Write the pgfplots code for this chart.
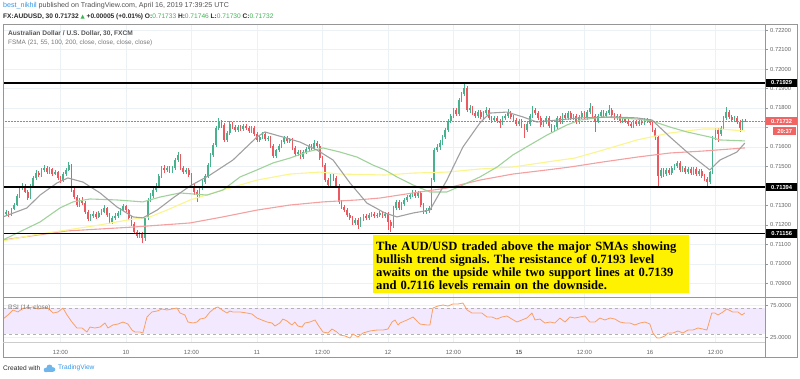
\documentclass[border=0pt]{standalone}
\usepackage{pgfplots}
\pgfplotsset{compat=1.18}
\usepackage{pgfplotstable}
\usepackage{fontspec}
\setmainfont{Liberation Sans}
\newfontfamily\serifb{Liberation Serif}
\newfontfamily\dejavu{DejaVu Sans}
\definecolor{upc}{RGB}{72,178,140}
\definecolor{dnc}{RGB}{236,88,96}
\definecolor{gridc}{RGB}{236,241,246}
\definecolor{framec}{RGB}{150,150,150}
\definecolor{labc}{RGB}{100,100,100}
\definecolor{smagrey}{RGB}{160,160,160}
\definecolor{smagreen}{RGB}{160,210,155}
\definecolor{smayellow}{RGB}{250,245,140}
\definecolor{smared}{RGB}{245,160,160}
\definecolor{pricered}{RGB}{240,100,100}
\definecolor{rsic}{RGB}{250,160,100}
\definecolor{rsiband}{RGB}{243,233,255}
\definecolor{nickc}{RGB}{50,150,230}
\definecolor{hdrc}{RGB}{80,80,80}
\definecolor{hdr2}{RGB}{40,40,40}
\definecolor{greenv}{RGB}{60,180,80}
\definecolor{titc}{RGB}{85,85,85}
\definecolor{subc}{RGB}{120,120,120}
\definecolor{tvblue}{RGB}{50,150,230}

\pgfplotstableread{
t o h l c
3 0.71246 0.71266 0.71236 0.71256
4 0.71256 0.71276 0.71246 0.71266
5 0.71266 0.71271 0.71241 0.71251
6 0.71251 0.71287 0.71246 0.71282
7 0.71282 0.71312 0.71276 0.71302
8 0.71302 0.71359 0.71297 0.71348
9 0.71348 0.71400 0.71338 0.71389
10 0.71389 0.71415 0.71379 0.71400
11 0.71400 0.71410 0.71364 0.71369
12 0.71369 0.71379 0.71328 0.71338
13 0.71338 0.71410 0.71333 0.71400
14 0.71400 0.71451 0.71389 0.71441
15 0.71441 0.71482 0.71430 0.71466
16 0.71466 0.71477 0.71446 0.71456
17 0.71456 0.71492 0.71446 0.71482
18 0.71482 0.71507 0.71471 0.71492
19 0.71492 0.71502 0.71461 0.71471
20 0.71471 0.71497 0.71461 0.71487
21 0.71487 0.71492 0.71451 0.71461
22 0.71461 0.71482 0.71456 0.71471
23 0.71471 0.71477 0.71430 0.71441
24 0.71441 0.71451 0.71415 0.71425
25 0.71425 0.71471 0.71420 0.71461
26 0.71461 0.71492 0.71451 0.71482
27 0.71482 0.71523 0.71477 0.71507
28 0.71507 0.71513 0.71369 0.71379
29 0.71379 0.71389 0.71333 0.71343
30 0.71343 0.71353 0.71292 0.71302
31 0.71302 0.71338 0.71292 0.71328
32 0.71328 0.71343 0.71302 0.71312
33 0.71312 0.71323 0.71256 0.71266
34 0.71266 0.71276 0.71220 0.71230
35 0.71230 0.71256 0.71220 0.71246
36 0.71246 0.71271 0.71236 0.71256
37 0.71256 0.71266 0.71230 0.71241
38 0.71241 0.71271 0.71236 0.71261
39 0.71261 0.71282 0.71251 0.71266
40 0.71266 0.71302 0.71261 0.71287
41 0.71287 0.71292 0.71241 0.71251
42 0.71251 0.71261 0.71205 0.71215
43 0.71215 0.71246 0.71205 0.71236
44 0.71236 0.71261 0.71225 0.71246
45 0.71246 0.71271 0.71236 0.71261
46 0.71261 0.71287 0.71251 0.71276
47 0.71276 0.71307 0.71271 0.71297
48 0.71297 0.71302 0.71266 0.71276
49 0.71276 0.71282 0.71225 0.71236
50 0.71236 0.71246 0.71194 0.71205
51 0.71205 0.71215 0.71153 0.71164
52 0.71164 0.71174 0.71133 0.71143
53 0.71143 0.71164 0.71133 0.71153
54 0.71153 0.71164 0.71107 0.71133
55 0.71133 0.71246 0.71118 0.71236
56 0.71236 0.71338 0.71225 0.71328
57 0.71328 0.71364 0.71318 0.71348
58 0.71348 0.71389 0.71338 0.71379
59 0.71379 0.71415 0.71369 0.71400
60 0.71400 0.71461 0.71389 0.71451
61 0.71451 0.71502 0.71441 0.71492
62 0.71492 0.71507 0.71466 0.71482
63 0.71482 0.71502 0.71471 0.71492
64 0.71492 0.71502 0.71466 0.71477
65 0.71477 0.71502 0.71466 0.71492
66 0.71492 0.71543 0.71482 0.71533
67 0.71533 0.71574 0.71523 0.71559
68 0.71559 0.71564 0.71482 0.71492
69 0.71492 0.71502 0.71461 0.71471
70 0.71471 0.71492 0.71461 0.71482
71 0.71482 0.71492 0.71446 0.71456
72 0.71456 0.71466 0.71389 0.71400
73 0.71400 0.71410 0.71353 0.71369
74 0.71369 0.71379 0.71318 0.71353
75 0.71353 0.71400 0.71338 0.71389
76 0.71389 0.71430 0.71379 0.71420
77 0.71420 0.71461 0.71410 0.71451
78 0.71451 0.71518 0.71441 0.71507
79 0.71507 0.71569 0.71497 0.71559
80 0.71559 0.71620 0.71548 0.71610
81 0.71610 0.71708 0.71600 0.71697
82 0.71697 0.71749 0.71687 0.71728
83 0.71728 0.71738 0.71697 0.71713
84 0.71713 0.71723 0.71625 0.71636
85 0.71636 0.71682 0.71625 0.71672
86 0.71672 0.71733 0.71661 0.71718
87 0.71718 0.71728 0.71692 0.71702
88 0.71702 0.71713 0.71677 0.71687
89 0.71687 0.71713 0.71677 0.71702
90 0.71702 0.71713 0.71682 0.71692
91 0.71692 0.71718 0.71682 0.71708
92 0.71708 0.71718 0.71687 0.71697
93 0.71697 0.71708 0.71672 0.71682
94 0.71682 0.71708 0.71672 0.71697
95 0.71697 0.71708 0.71656 0.71666
96 0.71666 0.71677 0.71625 0.71636
97 0.71636 0.71661 0.71625 0.71651
98 0.71651 0.71677 0.71641 0.71666
99 0.71666 0.71677 0.71631 0.71641
100 0.71641 0.71656 0.71631 0.71646
101 0.71646 0.71656 0.71595 0.71605
102 0.71605 0.71615 0.71543 0.71554
103 0.71554 0.71589 0.71543 0.71584
104 0.71584 0.71615 0.71574 0.71605
105 0.71605 0.71636 0.71595 0.71625
106 0.71625 0.71656 0.71615 0.71646
107 0.71646 0.71656 0.71620 0.71631
108 0.71631 0.71646 0.71620 0.71636
109 0.71636 0.71646 0.71584 0.71595
110 0.71595 0.71605 0.71554 0.71564
111 0.71564 0.71584 0.71554 0.71574
112 0.71574 0.71584 0.71538 0.71548
113 0.71548 0.71584 0.71538 0.71574
114 0.71574 0.71600 0.71564 0.71589
115 0.71589 0.71615 0.71579 0.71605
116 0.71605 0.71615 0.71584 0.71595
117 0.71595 0.71636 0.71584 0.71620
118 0.71620 0.71631 0.71595 0.71605
119 0.71605 0.71615 0.71533 0.71543
120 0.71543 0.71554 0.71497 0.71507
121 0.71507 0.71518 0.71420 0.71430
122 0.71430 0.71441 0.71389 0.71405
123 0.71405 0.71461 0.71394 0.71451
124 0.71451 0.71461 0.71425 0.71441
125 0.71441 0.71451 0.71389 0.71400
126 0.71400 0.71410 0.71307 0.71318
127 0.71318 0.71328 0.71282 0.71292
128 0.71292 0.71302 0.71266 0.71276
129 0.71276 0.71287 0.71241 0.71251
130 0.71251 0.71261 0.71225 0.71236
131 0.71236 0.71246 0.71200 0.71210
132 0.71210 0.71236 0.71200 0.71225
133 0.71225 0.71236 0.71179 0.71200
134 0.71200 0.71241 0.71189 0.71230
135 0.71230 0.71256 0.71220 0.71246
136 0.71246 0.71256 0.71225 0.71236
137 0.71236 0.71261 0.71225 0.71251
138 0.71251 0.71266 0.71241 0.71256
139 0.71256 0.71266 0.71236 0.71246
140 0.71246 0.71261 0.71236 0.71251
141 0.71251 0.71271 0.71241 0.71261
142 0.71261 0.71271 0.71236 0.71246
143 0.71246 0.71266 0.71236 0.71256
144 0.71256 0.71266 0.71174 0.71215
145 0.71215 0.71225 0.71164 0.71194
146 0.71194 0.71297 0.71184 0.71287
147 0.71287 0.71328 0.71276 0.71318
148 0.71318 0.71328 0.71276 0.71287
149 0.71287 0.71318 0.71276 0.71307
150 0.71307 0.71338 0.71297 0.71328
151 0.71328 0.71353 0.71318 0.71343
152 0.71343 0.71364 0.71333 0.71353
153 0.71353 0.71379 0.71343 0.71369
154 0.71369 0.71379 0.71338 0.71348
155 0.71348 0.71374 0.71338 0.71364
156 0.71364 0.71374 0.71292 0.71302
157 0.71302 0.71312 0.71256 0.71266
158 0.71266 0.71287 0.71256 0.71276
159 0.71276 0.71297 0.71261 0.71287
160 0.71287 0.71441 0.71276 0.71430
161 0.71430 0.71595 0.71420 0.71584
162 0.71584 0.71615 0.71574 0.71600
163 0.71600 0.71636 0.71584 0.71620
164 0.71620 0.71661 0.71610 0.71651
165 0.71651 0.71697 0.71641 0.71687
166 0.71687 0.71743 0.71677 0.71733
167 0.71733 0.71769 0.71723 0.71759
168 0.71759 0.71800 0.71749 0.71790
169 0.71790 0.71800 0.71759 0.71769
170 0.71769 0.71851 0.71759 0.71841
171 0.71841 0.71882 0.71831 0.71872
172 0.71872 0.71928 0.71861 0.71902
173 0.71902 0.71913 0.71779 0.71790
174 0.71790 0.71815 0.71774 0.71800
175 0.71800 0.71810 0.71764 0.71774
176 0.71774 0.71784 0.71749 0.71759
177 0.71759 0.71790 0.71749 0.71779
178 0.71779 0.71790 0.71743 0.71754
179 0.71754 0.71784 0.71743 0.71774
180 0.71774 0.71805 0.71764 0.71790
181 0.71790 0.71800 0.71738 0.71749
182 0.71749 0.71759 0.71723 0.71738
183 0.71738 0.71759 0.71728 0.71749
184 0.71749 0.71759 0.71723 0.71733
185 0.71733 0.71743 0.71697 0.71723
186 0.71723 0.71759 0.71713 0.71749
187 0.71749 0.71769 0.71738 0.71759
188 0.71759 0.71795 0.71749 0.71774
189 0.71774 0.71784 0.71743 0.71754
190 0.71754 0.71764 0.71728 0.71738
191 0.71738 0.71749 0.71708 0.71718
192 0.71718 0.71743 0.71708 0.71733
193 0.71733 0.71743 0.71697 0.71708
194 0.71708 0.71718 0.71646 0.71687
195 0.71687 0.71728 0.71677 0.71718
196 0.71718 0.71769 0.71708 0.71759
197 0.71759 0.71810 0.71749 0.71790
198 0.71790 0.71800 0.71764 0.71774
199 0.71774 0.71784 0.71738 0.71749
200 0.71749 0.71759 0.71702 0.71713
201 0.71713 0.71738 0.71702 0.71728
202 0.71728 0.71759 0.71718 0.71749
203 0.71749 0.71759 0.71697 0.71708
204 0.71708 0.71718 0.71677 0.71687
205 0.71687 0.71713 0.71677 0.71702
206 0.71702 0.71759 0.71692 0.71749
207 0.71749 0.71759 0.71718 0.71728
208 0.71728 0.71774 0.71718 0.71764
209 0.71764 0.71774 0.71738 0.71749
210 0.71749 0.71784 0.71738 0.71774
211 0.71774 0.71784 0.71738 0.71749
212 0.71749 0.71769 0.71738 0.71759
213 0.71759 0.71769 0.71718 0.71728
214 0.71728 0.71764 0.71718 0.71754
215 0.71754 0.71784 0.71743 0.71774
216 0.71774 0.71784 0.71738 0.71749
217 0.71749 0.71790 0.71738 0.71779
218 0.71779 0.71826 0.71769 0.71800
219 0.71800 0.71810 0.71749 0.71759
220 0.71759 0.71769 0.71677 0.71733
221 0.71733 0.71769 0.71723 0.71759
222 0.71759 0.71790 0.71749 0.71779
223 0.71779 0.71790 0.71749 0.71759
224 0.71759 0.71784 0.71749 0.71774
225 0.71774 0.71815 0.71764 0.71790
226 0.71790 0.71800 0.71754 0.71764
227 0.71764 0.71774 0.71738 0.71749
228 0.71749 0.71769 0.71738 0.71759
229 0.71759 0.71769 0.71723 0.71733
230 0.71733 0.71754 0.71723 0.71743
231 0.71743 0.71754 0.71723 0.71733
232 0.71733 0.71743 0.71708 0.71718
233 0.71718 0.71728 0.71697 0.71708
234 0.71708 0.71738 0.71697 0.71728
235 0.71728 0.71738 0.71708 0.71718
236 0.71718 0.71743 0.71708 0.71733
237 0.71733 0.71743 0.71713 0.71723
238 0.71723 0.71749 0.71713 0.71738
239 0.71738 0.71749 0.71723 0.71733
240 0.71733 0.71743 0.71713 0.71723
241 0.71723 0.71733 0.71677 0.71687
242 0.71687 0.71697 0.71636 0.71651
243 0.71651 0.71661 0.71394 0.71451
244 0.71451 0.71492 0.71441 0.71482
245 0.71482 0.71492 0.71446 0.71461
246 0.71461 0.71492 0.71451 0.71482
247 0.71482 0.71492 0.71456 0.71466
248 0.71466 0.71502 0.71456 0.71492
249 0.71492 0.71513 0.71482 0.71502
250 0.71502 0.71528 0.71492 0.71518
251 0.71518 0.71528 0.71471 0.71482
252 0.71482 0.71502 0.71471 0.71492
253 0.71492 0.71502 0.71461 0.71471
254 0.71471 0.71497 0.71461 0.71487
255 0.71487 0.71497 0.71456 0.71466
256 0.71466 0.71497 0.71456 0.71487
257 0.71487 0.71497 0.71451 0.71461
258 0.71461 0.71487 0.71451 0.71477
259 0.71477 0.71487 0.71441 0.71451
260 0.71451 0.71461 0.71425 0.71436
261 0.71436 0.71446 0.71400 0.71420
262 0.71420 0.71477 0.71410 0.71471
263 0.71471 0.71656 0.71461 0.71646
264 0.71646 0.71697 0.71636 0.71687
265 0.71687 0.71697 0.71625 0.71666
266 0.71666 0.71708 0.71656 0.71697
267 0.71697 0.71759 0.71687 0.71749
268 0.71749 0.71805 0.71738 0.71779
269 0.71779 0.71790 0.71743 0.71754
270 0.71754 0.71764 0.71728 0.71738
271 0.71738 0.71759 0.71728 0.71749
272 0.71749 0.71759 0.71718 0.71728
273 0.71728 0.71738 0.71677 0.71697
274 0.71697 0.71743 0.71687 0.71727
275 0.71733 0.71746 0.71730 0.71732
}\candles

\pgfplotsset{
  candle/.style 2 args={forget plot, draw=none, mark=none,
    error bars/y dir=plus, error bars/y explicit, error bars/error mark=none,
    error bars/error bar style={draw=#1, solid, line width=#2}},
}

\begin{document}
\frenchspacing
\begin{tikzpicture}[x=1pt,y=1pt]
\useasboundingbox (0,0) rectangle (800,378);

% ---------------- main price pane ----------------
\begin{axis}[
  at={(3pt,81pt)}, anchor=south west, scale only axis,
  width=762pt, height=273pt,
  xmin=2.93, xmax=282.2, ymin=0.70830, ymax=0.72231,
  clip mode=individual,
  axis line style={draw=none},
  xtick={24,48,72,96,120,144,168,192,216,240,264},
  xticklabels={},
  ytick={0.709,0.71,0.711,0.712,0.713,0.714,0.715,0.716,0.717,0.718,0.719,0.72,0.721,0.722},
  yticklabels={0.70900,0.71000,0.71100,0.71200,0.71300,{},0.71500,0.71600,{},0.71800,0.71900,0.72000,0.72100,0.72200},
  ytick pos=right, yticklabel pos=right,
  tick align=outside, major tick length=3pt,
  xtick style={draw=none}, ytick style={draw=framec, line width=0.5pt},
  yticklabel style={font=\fontsize{5.8}{7}\selectfont, text=labc, anchor=west, inner sep=0pt, xshift=2pt},
  grid=major, major grid style={draw=gridc, line width=0.5pt},
]
% wicks
\addplot[candle={upc}{0.5pt}, restrict expr to domain={\thisrow{c}-\thisrow{o}}{0:1}]
  table[x=t, y=l, y error expr=\thisrow{h}-\thisrow{l}] {\candles};
\addplot[candle={dnc}{0.5pt}, restrict expr to domain={\thisrow{o}-\thisrow{c}}{0.0000001:1}]
  table[x=t, y=l, y error expr=\thisrow{h}-\thisrow{l}] {\candles};
% bodies
\addplot[candle={upc}{1.7pt}, restrict expr to domain={\thisrow{c}-\thisrow{o}}{0:1}]
  table[x=t, y=o, y error expr=\thisrow{c}-\thisrow{o}] {\candles};
\addplot[candle={dnc}{1.7pt}, restrict expr to domain={\thisrow{o}-\thisrow{c}}{0.0000001:1}]
  table[x=t, y=c, y error expr=\thisrow{o}-\thisrow{c}] {\candles};

% SMA 200 (red)
\addplot[smared, line width=1.1pt, line join=round] coordinates {
(2.93,0.71123) (26.4,0.71169) (50.6,0.71189) (71.5,0.71210) (83.5,0.71241) (96.0,0.71276)
(108.1,0.71302) (120.2,0.71318) (132.7,0.71328) (141.1,0.71338) (153.2,0.71364) (165.6,0.71389)
(177.7,0.71430) (189.8,0.71461) (202.3,0.71482) (210.7,0.71497) (222.8,0.71523) (235.3,0.71548)
(247.4,0.71569) (259.4,0.71579) (274.8,0.71595)};
% SMA 100 (yellow)
\addplot[smayellow, line width=1.1pt, line join=round] coordinates {
(2.93,0.71118) (13.9,0.71148) (26.4,0.71174) (38.5,0.71200) (50.6,0.71230) (56.8,0.71241)
(63.0,0.71276) (71.5,0.71328) (83.5,0.71379) (96.0,0.71430) (108.1,0.71461) (119.1,0.71471)
(126.4,0.71461) (142.9,0.71456) (153.2,0.71466) (165.6,0.71471) (177.7,0.71487) (189.8,0.71497)
(202.3,0.71523) (212.5,0.71543) (222.8,0.71584) (235.3,0.71636) (247.4,0.71672) (259.4,0.71692)
(265.7,0.71692) (274.8,0.71682)};
% SMA 55 (green)
\addplot[smagreen, line width=1.1pt, line join=round] coordinates {
(2.93,0.71123) (16.5,0.71215) (23.8,0.71287) (28.6,0.71318) (34.8,0.71333) (44.7,0.71328)
(54.2,0.71318) (60.5,0.71343) (67.8,0.71364) (77.7,0.71353) (83.5,0.71379) (89.8,0.71446)
(96.0,0.71482) (101.9,0.71518) (108.1,0.71543) (114.3,0.71574) (120.2,0.71595) (126.4,0.71574)
(132.7,0.71548) (138.5,0.71507) (142.9,0.71482) (147.3,0.71446) (153.2,0.71405) (159.4,0.71369)
(165.6,0.71369) (171.5,0.71405) (177.7,0.71446) (184.0,0.71497) (189.8,0.71559) (196.0,0.71610)
(202.3,0.71661) (209.6,0.71713) (214.4,0.71738) (222.8,0.71754) (235.3,0.71743) (240.8,0.71733)
(247.4,0.71702) (253.6,0.71677) (262.0,0.71651) (265.7,0.71636) (274.8,0.71631)};
% SMA 21 (grey)
\addplot[smagrey, line width=1.1pt, line join=round] coordinates {
(2.93,0.71241) (11.7,0.71287) (16.5,0.71353) (22.7,0.71415) (26.7,0.71441) (32.2,0.71420)
(38.5,0.71364) (44.7,0.71292) (50.6,0.71241) (54.2,0.71236) (59.4,0.71276) (65.2,0.71338)
(71.5,0.71400) (78.8,0.71456) (87.2,0.71533) (96.0,0.71651) (98.9,0.71677) (105.5,0.71651)
(111.8,0.71625) (118.0,0.71584) (123.9,0.71533) (130.1,0.71415) (136.3,0.71312) (142.9,0.71261)
(147.3,0.71241) (153.2,0.71261) (159.4,0.71276) (165.6,0.71430) (171.5,0.71600) (177.7,0.71723)
(181.4,0.71774) (187.6,0.71779) (193.5,0.71754) (198.6,0.71728) (205.9,0.71738) (214.4,0.71749)
(226.5,0.71754) (235.3,0.71749) (240.8,0.71738) (247.4,0.71651) (253.6,0.71574) (262.0,0.71482)
(265.7,0.71533) (271.9,0.71574) (274.8,0.71620)};

% current price line
\addplot[pricered, line width=0.5pt, densely dotted] coordinates {(2.93,0.71732) (282.2,0.71732)};
% support / resistance lines
\addplot[black, line width=1.8pt] coordinates {(2.93,0.71929) (282.2,0.71929)};
\addplot[black, line width=1.8pt] coordinates {(2.93,0.71394) (282.2,0.71394)};
\addplot[black, line width=1.8pt] coordinates {(2.93,0.71156) (282.2,0.71156)};

\coordinate (r1) at (axis cs:282.2,0.71929);
\coordinate (r2) at (axis cs:282.2,0.71394);
\coordinate (r3) at (axis cs:282.2,0.71156);
\coordinate (r4) at (axis cs:282.2,0.71732);
\end{axis}

% ---------------- RSI pane ----------------
\begin{axis}[
  at={(3pt,36pt)}, anchor=south west, scale only axis,
  width=762pt, height=45pt,
  xmin=2.93, xmax=282.2, ymin=17.19, ymax=87.5,
  clip mode=individual,
  axis line style={draw=none},
  xtick={24,48,72,96,120,144,168,192,216,240,264},
  xticklabels={12:00,10,12:00,11,12:00,12,12:00,\textbf{15},12:00,16,12:00},
  xtick pos=bottom,
  xticklabel style={font=\fontsize{6}{7}\selectfont, text=labc, inner sep=0pt, yshift=-5.5pt},
  ytick={25,75}, yticklabels={25.0000,75.0000},
  ytick pos=right, yticklabel pos=right,
  tick align=outside, major tick length=3pt,
  xtick style={draw=none}, ytick style={draw=framec, line width=0.5pt},
  yticklabel style={font=\fontsize{5.8}{7}\selectfont, text=labc, anchor=west, inner sep=0pt, xshift=2pt},
  grid=major, major grid style={draw=gridc, line width=0.5pt},
]
\addplot[draw=none, fill=rsiband, forget plot] coordinates {(2.93,30) (282.2,30) (282.2,70) (2.93,70)} -- cycle;
\addplot[draw=black!30, dashed, line width=0.5pt, forget plot] coordinates {(2.93,70) (282.2,70)};
\addplot[draw=black!30, dashed, line width=0.5pt, forget plot] coordinates {(2.93,30) (282.2,30)};
\addplot[rsic, line width=0.8pt, line join=round] coordinates {
(2.93,53.1) (4.76,59.4) (6.6,67.2) (8.4,64.1) (10.3,70.3) (12.1,70.3) (13.9,71.9) (15.8,68.8)
(17.6,70.3) (19.4,70.3) (21.3,62.5) (23.1,64.1) (24.9,70.3) (26.4,59.4) (28.2,48.4) (30.0,39.1)
(31.9,39.1) (33.7,32.8) (34.8,40.6) (36.6,39.1) (38.5,40.6) (40.3,46.9) (41.4,39.1) (43.2,43.8)
(45.1,45.3) (46.9,48.4) (48.7,45.3) (50.2,35.9) (51.3,32.8) (53.1,32.8) (54.2,31.3) (55.7,56.3)
(57.5,64.1) (59.4,65.6) (61.2,68.8) (63.0,67.2) (64.9,68.8) (66.7,70.3) (67.8,62.5) (69.6,59.4)
(70.7,48.4) (72.6,46.9) (74.0,48.4) (75.1,53.1) (77.0,54.7) (78.8,64.1) (80.6,70.3) (81.7,71.9)
(83.2,67.2) (85.0,62.5) (86.1,65.6) (87.2,64.1) (89.8,64.1) (92.3,62.5) (94.2,60.9) (96.0,54.7)
(97.8,51.6) (99.7,48.4) (101.5,46.9) (102.6,42.2) (104.4,46.9) (105.5,53.1) (107.0,50.0) (108.8,43.8)
(109.9,48.4) (111.0,42.2) (112.5,40.6) (113.6,46.9) (115.4,48.4) (117.3,51.6) (118.4,43.8) (120.2,32.8)
(122.0,31.3) (123.5,37.5) (125.3,32.8) (126.4,28.1) (128.3,26.6) (130.1,23.4) (131.2,29.7) (133.0,25.0)
(134.9,31.3) (137.4,34.4) (140.0,35.9) (142.2,35.9) (144.0,37.5) (145.5,48.4) (146.6,51.6) (147.7,43.8)
(148.4,46.9) (151.0,51.6) (153.2,56.3) (155.7,45.3) (158.3,43.8) (159.4,43.8) (160.5,70.3) (162.3,73.4)
(164.2,75.0) (166.0,73.4) (167.8,76.6) (169.7,76.6) (171.5,78.1) (173.0,67.2) (174.8,62.5) (176.6,62.5)
(178.4,62.5) (180.3,56.3) (182.1,56.3) (183.9,53.1) (185.8,56.3) (187.6,57.8) (189.4,53.1) (191.3,48.4)
(193.1,51.6) (194.9,54.7) (196.8,62.5) (197.9,51.6) (199.7,53.1) (201.5,46.9) (203.4,48.4) (205.2,46.9)
(207.0,54.7) (208.9,48.4) (210.7,56.3) (212.5,54.7) (214.4,56.3) (216.2,57.8) (218.0,48.4) (219.9,48.4)
(221.7,54.7) (223.5,51.6) (225.4,54.7) (227.2,53.1) (229.0,48.4) (230.9,46.9) (232.7,46.9) (234.5,43.8)
(236.4,46.9) (238.2,48.4) (240.0,45.3) (241.1,31.3) (242.6,23.4) (243.7,23.4) (245.5,26.6) (246.6,31.3)
(248.5,31.3) (250.3,34.4) (252.1,31.3) (254.0,35.9) (255.8,35.9) (257.6,39.1) (259.4,37.5) (260.9,35.9)
(262.7,62.5) (263.8,62.5) (265.0,59.4) (266.8,64.1) (268.2,68.8) (270.4,64.1) (272.3,64.1) (273.7,59.4)
(274.8,62.5)};
\end{axis}

% ---------------- frame ----------------
\draw[framec, line width=0.6pt] (3,21) rectangle (797,354);
\draw[framec, line width=0.6pt] (765,21) -- (765,354);
\draw[framec, line width=0.6pt] (3,81) -- (797,81);
\draw[black!20, line width=0.5pt] (3,36) -- (765,36);

% ---------------- price labels ----------------
\begin{scope}[every node/.style={inner sep=0pt, anchor=west, minimum height=8.5pt, font=\fontsize{5.8}{7}\selectfont\bfseries}]
\node[fill=black, text=white, minimum width=31pt] at ([xshift=1pt]r1) {0.71929};
\node[fill=black, text=white, minimum width=31pt] at ([xshift=1pt]r2) {0.71394};
\node[fill=black, text=white, minimum width=31pt] at ([xshift=1pt]r3) {0.71156};
\node[fill=pricered, text=white, minimum width=31pt] at ([xshift=1pt]r4) {0.71732};
\node[fill=pricered, text=white, minimum width=23pt, minimum height=8pt] at ([xshift=8pt,yshift=-10pt]r4) {20:37};
\end{scope}

% ---------------- texts ----------------
\node[anchor=west, inner sep=0pt, font=\fontsize{7.1}{8}\selectfont, text=hdrc] at (3,372)
  {{\color{nickc}best\_nikhil} published on TradingView.com, April 16, 2019 17:39:25 UTC};
\node[anchor=west, inner sep=0pt, font=\fontsize{6.6}{8}\selectfont\bfseries, text=hdr2] at (3,361)
  {FX:AUDUSD, 30 0.71732 {\color{greenv}\dejavu\fontsize{5.5}{7}\selectfont ▲} +0.00005 (+0.01\%) O:{\color{greenv}\mdseries 0.71733} H:{\color{greenv}\mdseries 0.71746} L:{\color{greenv}\mdseries 0.71730} C:{\color{greenv}\mdseries 0.71732}};
\node[anchor=west, inner sep=0pt, font=\fontsize{6.6}{8}\selectfont\bfseries, text=titc] at (8,344)
  {Australian Dollar / U.S. Dollar, 30, FXCM};
\node[anchor=west, inner sep=0pt, font=\fontsize{6.4}{8}\selectfont, text=subc] at (8,335)
  {FSMA (21, 55, 100, 200, close, close, close, close)};
\node[anchor=west, inner sep=0pt, font=\fontsize{6.4}{8}\selectfont, text=subc] at (8,70)
  {RSI (14, close)};

% yellow comment box
\fill[yellow] (372.7,84.7) rectangle (689.3,143);
\node[anchor=north west, inner sep=0pt, text width=312pt, align=left,
  font=\serifb\bfseries\fontsize{12.6}{13.2}\selectfont] at (376,136.7)
  {The AUD/USD traded above the major SMAs showing\\bullish trend signals. The resistance of 0.7193 level\\awaits on the upside while two support lines at 0.7139\\and 0.7116 levels remain on the downside.};

% footer
\node[anchor=west, inner sep=0pt, font=\fontsize{6.6}{8}\selectfont, text=hdr2] at (3,10) {Created with};
\fill[tvblue!70] (46,8) circle (2.3) (49.5,10.5) circle (3) (53,8.5) circle (2.3);
\fill[tvblue!70] (46,5.8) rectangle (53,8.5);
\node[anchor=west, inner sep=0pt, font=\fontsize{6.6}{8}\selectfont, text=tvblue] at (58,10) {TradingView};
\end{tikzpicture}
\end{document}
